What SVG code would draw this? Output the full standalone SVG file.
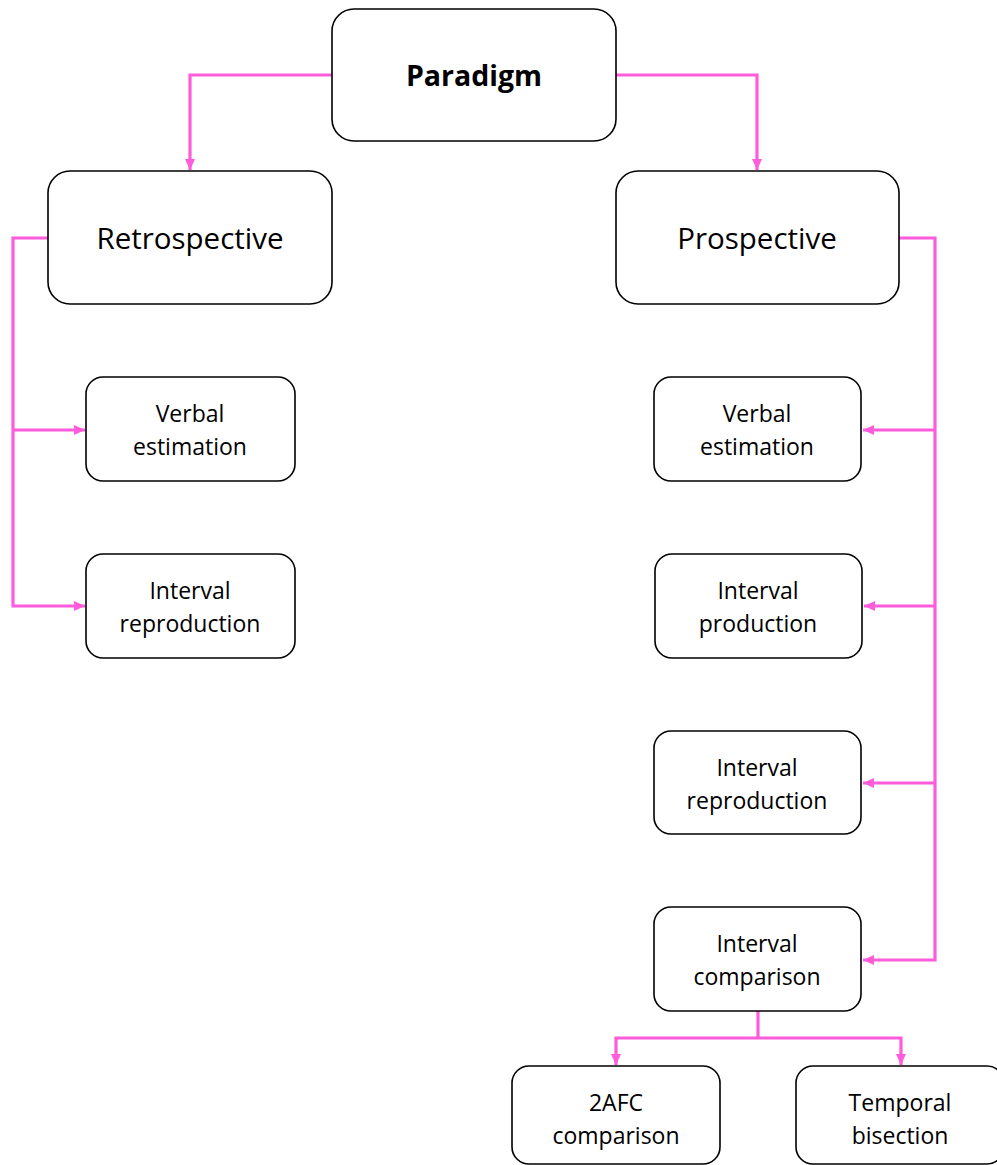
<svg xmlns="http://www.w3.org/2000/svg" width="997" height="1165" viewBox="0 0 997 1165">
<style>
.box{fill:#fff;stroke:#000;stroke-width:1.6}
.c{fill:none;stroke:#FF5CDB;stroke-width:3.2}
.t{font-family:"Open Sans","Noto Sans",sans-serif;fill:#000;text-anchor:middle}
.big{font-size:29.5px}
.sm{font-size:23px}
</style>
<defs>
<marker id="ah" markerUnits="userSpaceOnUse" markerWidth="12" markerHeight="12" viewBox="0 0 12 12" refX="11" refY="6" orient="auto">
<path d="M0,1 L11,6 L0,11 Z" fill="#FF5CDB"/>
</marker>
</defs>
<rect width="997" height="1165" fill="#fff"/>
<g id="connectors">
<path class="c" d="M332,75 H190 V170" marker-end="url(#ah)"/>
<path class="c" d="M616,75 H757 V170" marker-end="url(#ah)"/>
<path class="c" d="M48,238 H13 V606 H85" marker-end="url(#ah)"/>
<path class="c" d="M13,430 H85" marker-end="url(#ah)"/>
<path class="c" d="M899,238 H935 V960 H863" marker-end="url(#ah)"/>
<path class="c" d="M935,430 H863" marker-end="url(#ah)"/>
<path class="c" d="M935,606 H864" marker-end="url(#ah)"/>
<path class="c" d="M935,783 H863" marker-end="url(#ah)"/>
<path class="c" d="M758,1011 V1038"/>
<path class="c" d="M758,1038 H616 V1065" marker-end="url(#ah)"/>
<path class="c" d="M758,1038 H901 V1065" marker-end="url(#ah)"/>
</g>
<g id="paradigm">
<rect class="box" x="332" y="9" width="284" height="132" rx="22"/>
<text class="t" x="474" y="86" font-size="28.5" font-weight="bold">Paradigm</text>
</g>
<g id="retrospective">
<rect class="box" x="48" y="171" width="284" height="133" rx="22"/>
<text class="t big" x="190" y="249">Retrospective</text>
</g>
<g id="prospective">
<rect class="box" x="616" y="171" width="283" height="133" rx="22"/>
<text class="t big" x="757" y="249">Prospective</text>
</g>
<g id="retro-verbal">
<rect class="box" x="86" y="377" width="209" height="104" rx="17"/>
<text class="t sm" x="190" y="422">Verbal</text>
<text class="t sm" x="190" y="455">estimation</text>
</g>
<g id="retro-reproduction">
<rect class="box" x="86" y="554" width="209" height="104" rx="17"/>
<text class="t sm" x="190" y="599">Interval</text>
<text class="t sm" x="190" y="632">reproduction</text>
</g>
<g id="pro-verbal">
<rect class="box" x="654" y="377" width="207" height="104" rx="17"/>
<text class="t sm" x="757" y="422">Verbal</text>
<text class="t sm" x="757" y="455">estimation</text>
</g>
<g id="pro-production">
<rect class="box" x="655" y="554" width="207" height="104" rx="17"/>
<text class="t sm" x="758" y="599">Interval</text>
<text class="t sm" x="758" y="632">production</text>
</g>
<g id="pro-reproduction">
<rect class="box" x="654" y="731" width="207" height="103" rx="17"/>
<text class="t sm" x="757" y="776">Interval</text>
<text class="t sm" x="757" y="809">reproduction</text>
</g>
<g id="pro-comparison">
<rect class="box" x="654" y="907" width="207" height="104" rx="17"/>
<text class="t sm" x="757" y="952">Interval</text>
<text class="t sm" x="757" y="985">comparison</text>
</g>
<g id="afc">
<rect class="box" x="512" y="1066" width="208" height="98" rx="17"/>
<text class="t sm" x="616" y="1111">2AFC</text>
<text class="t sm" x="616" y="1144">comparison</text>
</g>
<g id="bisection">
<rect class="box" x="796" y="1066" width="208" height="98" rx="17"/>
<text class="t sm" x="900" y="1111">Temporal</text>
<text class="t sm" x="900" y="1144">bisection</text>
</g>
</svg>
